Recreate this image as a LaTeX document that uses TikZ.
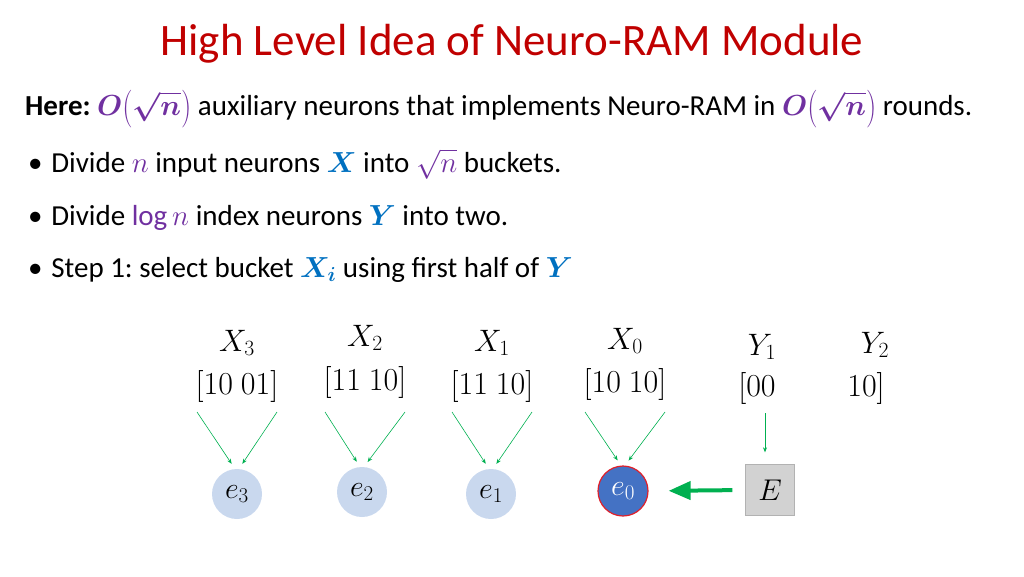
\documentclass[tikz,border=0pt]{standalone}
\usepackage{fix-cm}
\usepackage{amsmath}
\usepackage{graphicx}
\usepackage{fontspec}
\setmainfont{Carlito}
\usetikzlibrary{arrows.meta}
\frenchspacing
\definecolor{titlered}{HTML}{C00000}
\definecolor{mathpurple}{HTML}{7030A0}
\definecolor{mathblue}{HTML}{0070C0}
\definecolor{arrowgreen}{HTML}{00B050}
\definecolor{cellblue}{HTML}{C9D8EE}
\definecolor{activeblue}{HTML}{4472C4}
\definecolor{ringred}{HTML}{E0202A}
\newcommand{\pur}[1]{\textcolor{mathpurple}{#1}}
\newcommand{\blu}[1]{\textcolor{mathblue}{#1}}
\newcommand{\gap}{\hspace{0.25em}}
\newcommand{\tallp}[1]{\raisebox{-0.12em}{\scalebox{1}[1.3]{$#1$}}}
\newcommand{\orderroot}{\pur{$\boldsymbol{O}$\tallp{(}$\boldsymbol{\sqrt{n}}$\tallp{)}}}
\begin{document}
\begin{tikzpicture}[x=1pt,y=-1pt,
  every node/.style={inner sep=0pt},
  bodytext/.style={anchor=base west,font=\fontsize{29}{34}\selectfont},
  lbl/.style={anchor=base,font=\fontsize{31}{36}\selectfont},
  code/.style={anchor=base,font=\fontsize{32}{36}\selectfont},
  neuron/.style={circle,minimum size=50pt,fill=cellblue,font=\fontsize{30}{34}\selectfont},
  feed/.style={-{Stealth[length=5pt,width=4pt]},draw=arrowgreen,line width=0.6pt,shorten >=6pt}]
  \useasboundingbox (0,0) rectangle (1024,576);
  % title and text
  \node[anchor=base,text=titlered,font=\fontsize{45}{50}\selectfont] (title) at (512,55) {High Level Idea of Neuro-RAM Module};
  \node[bodytext] (here) at (25,115) {\textbf{Here:} \orderroot{} auxiliary neurons that implements Neuro-RAM in \orderroot{} rounds.};
  \node[bodytext] (b1) at (28,172) {\textbullet\hspace{0.3em}Divide \pur{$n$} input neurons \blu{$\boldsymbol{X}$} into \pur{$\sqrt{n}$} buckets.};
  \node[bodytext] (b2) at (28,225) {\textbullet\hspace{0.3em}Divide \pur{$\log n$} index neurons \blu{$\boldsymbol{Y}$} into two.};
  \node[bodytext] (b3) at (28,277) {\textbullet\hspace{0.3em}Step 1: select bucket \blu{$\boldsymbol{X_i}$} using first half of \blu{$\boldsymbol{Y}$}};
  % buckets
  \foreach \i/\x/\ly/\cy/\bits in {3/237/351/394/{10\gap01},2/365/346/390/{11\gap10},1/492/351/394/{11\gap10},0/625/349/392/{10\gap10}} {
    \node[lbl] (x\i) at (\x,\ly) {$X_\i$};
    \node[code] (c\i) at (\x,\cy) {$[\bits]$};
    \coordinate (l\i) at (\x-40,412);
    \coordinate (r\i) at (\x+40,412);
  }
  \node[neuron] (e3) at (237,494) {$e_3$};
  \node[neuron] (e2) at (362,492) {$e_2$};
  \node[neuron] (e1) at (491,494) {$e_1$};
  \node[neuron,fill=activeblue,draw=ringred,line width=1.2pt,text=white] (e0) at (623,491) {$e_0$};
  \foreach \i in {0,1,2,3} {
    \draw[feed] (l\i) -- ([xshift=-2pt]e\i.north);
    \draw[feed] (r\i) -- ([xshift=2pt]e\i.north);
  }
  % index neurons
  \node[lbl] (y1) at (762,355) {$Y_1$};
  \node[lbl] (y2) at (875,353) {$Y_2$};
  \node[code] (d1) at (757,396) {$[00$};
  \node[code] (d2) at (866,396) {$10]$};
  \node[draw=gray!60,fill=gray!35,minimum width=49pt,minimum height=51pt,font=\fontsize{30}{34}\selectfont] (E) at (770,490) {$E$};
  \coordinate (yin) at (765,413);
  \draw[feed,shorten >=12pt] (yin) -- (yin |- E.north);
  \draw[-{Triangle[length=22pt,width=18pt]},draw=arrowgreen,fill=arrowgreen,line width=4pt,shorten <=13pt,shorten >=20pt] (E.west) -- (e0.east);
\end{tikzpicture}
\end{document}
